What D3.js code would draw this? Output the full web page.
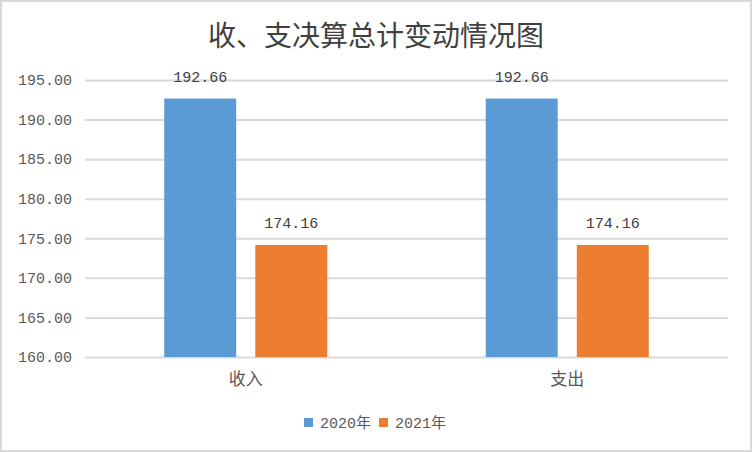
<!DOCTYPE html>
<html>
<head>
<meta charset="utf-8">
<script src="https://cdn.jsdelivr.net/npm/d3@7"></script>
<style>
  body { margin: 0; background: #fff; }
  svg { display: block; }
</style>
</head>
<body>
<svg id="chart" width="752" height="452"></svg>
<script>
// data
const categories = ['收入', '支出'];
const seriesNames = ['2020年', '2021年'];
const values2020 = [192.66, 192.66];
const values2021 = [174.16, 174.16];
const yTicks = [160, 165, 170, 175, 180, 185, 190, 195];
const colors = ['#5b9bd5', '#ed7d31'];

const svg = d3.select('#chart');
const W = 752, H = 452;
const margin = {left: 85, right: 24, top: 80, bottom: 95};
const plotW = W - margin.left - margin.right;
const plotH = H - margin.top - margin.bottom;

const cjk = '"Noto Sans CJK SC", sans-serif';
const mono = '"Liberation Mono", "DejaVu Sans Mono", "Noto Sans CJK SC", monospace';

// outer frame
svg.append('rect')
    .attr('x', 1).attr('y', 1)
    .attr('width', W - 2).attr('height', H - 2)
    .style('fill', '#fff')
    .style('stroke', '#d9d9d9')
    .style('stroke-width', 2);

svg.append('text')
    .attr('x', 376).attr('y', 46)
    .attr('text-anchor', 'middle')
    .style('font-family', cjk)
    .style('font-size', '28px')
    .style('fill', '#404040')
    .text('收、支决算总计变动情况图');

const g = svg.append('g').attr('transform', `translate(${margin.left},${margin.top})`);

const yScale = d3.scaleLinear().domain([160, 195]).range([plotH, 0]);
const xScale = d3.scaleBand().domain(categories).range([0, plotW]);
const inner = d3.scaleBand().domain(seriesNames).range([0, xScale.bandwidth()])
    .paddingInner(0.21).paddingOuter(0.87);

// gridlines + y labels
const yAxis = d3.axisLeft(yScale).tickValues(yTicks).tickSize(-plotW).tickFormat(d3.format('.2f'));
const ya = g.append('g').call(yAxis);
ya.select('.domain').remove();
ya.selectAll('.tick line').style('stroke', '#d9d9d9').style('stroke-width', 2);
ya.selectAll('.tick text')
    .attr('x', -13)
    .style('font-family', mono)
    .style('font-size', '15px')
    .style('fill', '#595959');

// x labels
const xAxis = d3.axisBottom(xScale).tickSize(0).tickPadding(16);
const xa = g.append('g').attr('transform', `translate(0,${plotH})`).call(xAxis);
xa.select('.domain').remove();
xa.selectAll('.tick text')
    .style('font-family', cjk)
    .style('font-size', '17px')
    .style('fill', '#595959');

const rows = categories.map((c, i) => ({
  cat: c,
  vals: [
    {s: seriesNames[0], v: values2020[i], col: colors[0]},
    {s: seriesNames[1], v: values2021[i], col: colors[1]}
  ]
}));

const grp = g.selectAll('.grp')
    .data(rows)
    .enter().append('g')
    .attr('class', 'grp')
    .attr('transform', d => `translate(${xScale(d.cat)},0)`);

grp.selectAll('rect')
    .data(d => d.vals)
    .enter().append('rect')
    .attr('x', d => inner(d.s))
    .attr('y', d => yScale(d.v))
    .attr('width', inner.bandwidth())
    .attr('height', d => plotH - yScale(d.v))
    .style('fill', d => d.col);

grp.selectAll('.lbl')
    .data(d => d.vals)
    .enter().append('text')
    .attr('class', 'lbl')
    .attr('x', d => inner(d.s) + inner.bandwidth() / 2)
    .attr('y', d => yScale(d.v) - 17)
    .attr('text-anchor', 'middle')
    .style('font-family', mono)
    .style('font-size', '15px')
    .style('fill', '#404040')
    .text(d => d3.format('.2f')(d.v));

// legend
const legend = svg.append('g').attr('transform', 'translate(304,418)');
const lx = [0, 75];
seriesNames.forEach((s, i) => {
  legend.append('rect')
      .attr('x', lx[i]).attr('y', 0)
      .attr('width', 9).attr('height', 9)
      .style('fill', colors[i]);
  legend.append('text')
      .attr('x', lx[i] + 16).attr('y', 10)
      .style('font-family', mono)
      .style('font-size', '15px')
      .style('fill', '#595959')
      .text(s);
});
</script>
</body>
</html>
